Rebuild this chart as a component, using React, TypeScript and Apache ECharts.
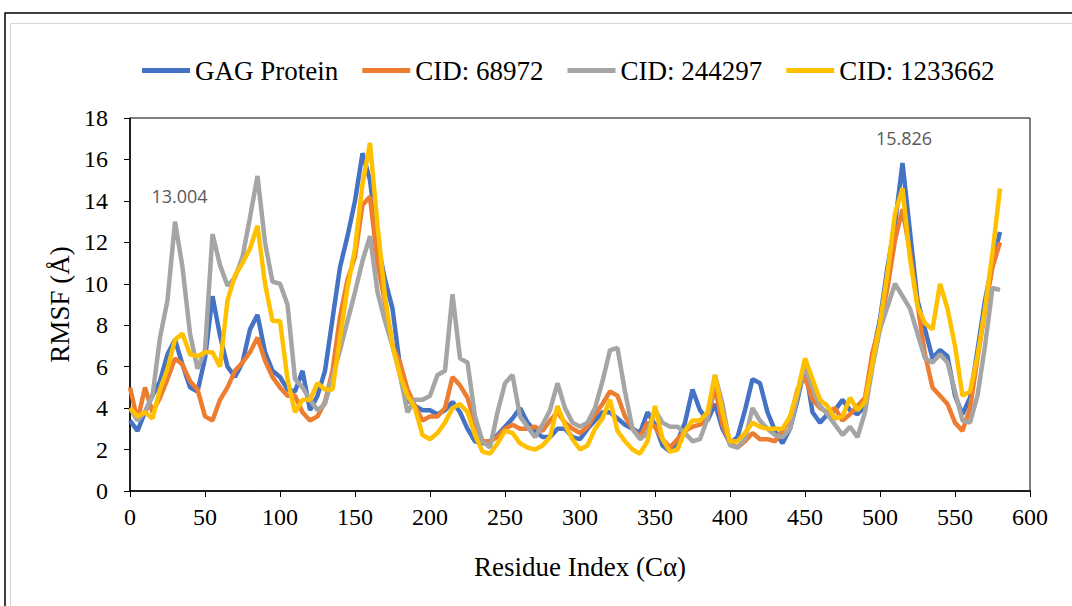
import React, { useEffect, useRef } from "react";
import * as echarts from "echarts";

const residues = [
  0, 5, 10, 15, 20, 25, 30, 35, 40, 45, 50, 55, 60, 65, 70, 75, 80, 85, 90, 95,
  100, 105, 110, 115, 120, 125, 130, 135, 140, 145, 150, 155, 160, 165, 170, 175, 180, 185, 190, 195,
  200, 205, 210, 215, 220, 225, 230, 235, 240, 245, 250, 255, 260, 265, 270, 275, 280, 285, 290, 295,
  300, 305, 310, 315, 320, 325, 330, 335, 340, 345, 350, 355, 360, 365, 370, 375, 380, 385, 390, 395,
  400, 405, 410, 415, 420, 425, 430, 435, 440, 445, 450, 455, 460, 465, 470, 475, 480, 485, 490, 495,
  500, 505, 510, 515, 520, 525, 530, 535, 540, 545, 550, 555, 560, 565, 570, 575, 580,
];

const gagProtein = [
  3.4, 2.9, 3.8, 4.6, 5.3, 6.6, 7.3, 6.1, 5.0, 4.8,
  6.4, 9.4, 7.5, 6.0, 5.5, 6.2, 7.8, 8.5, 6.7, 5.8,
  5.5, 4.9, 4.8, 5.8, 3.9, 4.6, 5.8, 8.3, 10.8, 12.3,
  14.0, 16.3, 15.0, 12.0, 10.2, 8.8, 6.0, 4.4, 4.1, 3.9,
  3.9, 3.7, 3.9, 4.3, 3.8, 3.0, 2.4, 2.3, 2.4, 2.7,
  3.1, 3.5, 4.0, 3.3, 2.9, 2.6, 2.6, 3.0, 3.0, 2.6,
  2.5, 3.0, 3.4, 3.8, 3.8, 3.5, 3.2, 3.0, 2.8, 3.8,
  3.2, 2.2, 1.9, 2.4, 3.3, 4.9, 3.9, 3.4, 4.2, 3.0,
  2.3, 2.6, 3.9, 5.4, 5.2, 3.8, 2.9, 2.3, 3.0, 4.4,
  6.0, 3.8, 3.3, 3.7, 3.9, 4.4, 3.9, 3.7, 4.1, 6.5,
  8.3, 10.8, 12.9, 15.83, 12.5, 9.2, 7.8, 6.4, 6.8, 6.5,
  4.6, 3.7, 4.5, 6.8, 9.2, 11.0, 12.5,
];

const cid68972 = [
  5.0, 3.4, 5.0, 3.8, 4.5, 5.4, 6.4, 6.1, 5.3, 4.9,
  3.6, 3.4, 4.4, 5.0, 5.8, 6.2, 6.7, 7.4, 6.3, 5.5,
  5.0, 4.6, 4.6, 3.8, 3.4, 3.6, 4.3, 5.8, 8.4, 10.2,
  11.3, 13.8, 14.2, 11.0, 9.1, 7.0, 6.2, 4.9, 4.1, 3.4,
  3.6, 3.6, 4.0, 5.5, 5.1, 4.5, 3.3, 2.4, 2.4, 2.6,
  3.0, 3.2, 3.0, 3.0, 3.1, 2.9, 3.4, 3.8, 3.3, 3.0,
  2.8, 3.1, 3.7, 4.2, 4.8, 4.6, 3.6, 3.0, 2.6, 3.3,
  3.1, 2.5, 2.1, 2.5, 2.9, 3.1, 3.2, 3.5, 5.0, 3.2,
  2.3, 2.1, 2.4, 2.8, 2.5, 2.5, 2.4, 2.9, 3.5, 4.9,
  5.5, 4.4, 4.0, 3.8, 4.0, 3.4, 3.7, 4.1, 4.5, 6.7,
  8.0, 9.8, 12.1, 13.6, 11.5, 9.0, 6.6, 5.0, 4.6, 4.2,
  3.3, 2.9, 4.0, 6.4, 8.7, 10.8, 12.0,
];

const cid244297 = [
  4.0, 3.4, 3.8, 4.6, 7.4, 9.2, 13.0, 10.8, 7.6, 5.9,
  6.8, 12.4, 10.9, 9.9, 10.3, 11.3, 13.2, 15.2, 12.0, 10.1,
  10.0, 9.0, 5.4, 5.0, 4.4, 3.9, 4.2, 5.5, 6.8, 8.2,
  9.6, 11.1, 12.3, 9.6, 8.2, 7.0, 5.6, 3.8, 4.4, 4.4,
  4.6, 5.6, 5.8, 9.5, 6.4, 6.2, 3.6, 2.4, 2.1, 3.8,
  5.2, 5.6, 3.6, 3.1, 2.6, 3.2, 3.9, 5.2, 4.0, 3.3,
  3.1, 3.3, 4.0, 5.3, 6.8, 6.9, 4.8, 3.0, 2.5, 2.8,
  3.9, 3.3, 3.1, 3.1, 2.8, 2.4, 2.5, 3.5, 5.6, 4.2,
  2.2, 2.1, 2.5, 4.0, 3.4, 3.0, 2.7, 2.6, 3.0, 4.6,
  6.0, 5.0, 4.1, 3.7, 3.2, 2.7, 3.1, 2.6, 3.8, 6.0,
  7.8, 8.9, 10.0, 9.4, 8.8, 7.6, 6.4, 6.2, 6.6, 6.2,
  4.8, 3.4, 3.3, 4.6, 7.0, 9.8, 9.7,
];

const cid1233662 = [
  4.0, 3.6, 3.8, 3.5, 4.9, 5.9, 7.3, 7.6, 6.6, 6.5,
  6.7, 6.7, 6.0, 9.2, 10.4, 11.0, 11.7, 12.8, 10.0, 8.2,
  8.2, 5.4, 3.8, 4.4, 4.4, 5.2, 4.9, 4.9, 7.4, 9.8,
  11.7, 14.8, 16.8, 12.8, 9.4, 7.0, 5.6, 4.6, 4.0, 2.7,
  2.5, 2.8, 3.3, 4.0, 4.2, 3.8, 2.7, 1.9, 1.8, 2.3,
  2.9, 2.8, 2.3, 2.1, 2.0, 2.2, 2.6, 4.1, 3.2, 2.5,
  2.0, 2.2, 3.0, 3.5, 4.4, 2.9, 2.4, 2.0, 1.8, 2.4,
  4.1, 2.5, 1.9, 2.0, 2.9, 3.4, 3.4, 3.8, 5.6, 3.8,
  2.4, 2.4, 2.8, 3.3, 3.1, 3.0, 3.0, 3.0, 3.6, 4.8,
  6.4, 5.4, 4.4, 4.1, 3.5, 3.6, 4.5, 3.9, 4.3, 6.2,
  8.1, 10.5, 13.4, 14.6, 11.2, 8.9, 8.1, 7.8, 10.0, 8.8,
  7.0, 4.6, 4.8, 6.5, 8.8, 11.5, 14.6,
];

const seriesNames = ["GAG Protein", "CID: 68972", "CID: 244297", "CID: 1233662"];
const seriesColors = ["#4472C4", "#ED7D31", "#A5A5A5", "#FFC000"];

// annotated peaks: [residue, value]
const grayPeak = [33, 13.004];
const gagPeak = [516, 15.826];

const serif = "Liberation Serif";

export default function App() {
  const ref = useRef<HTMLDivElement>(null);

  useEffect(() => {
    if (!ref.current) return;
    const chart = echarts.init(ref.current, null, { renderer: "svg" });
    const values = [gagProtein, cid68972, cid244297, cid1233662];
    const annotLabel = {
      show: true,
      position: "top",
      distance: 16,
      color: "#595959",
      fontSize: 18,
      fontFamily: "Open Sans",
    };
    const series = values.map((vals, k) => {
      const s: any = {
        name: seriesNames[k],
        type: "line",
        data: residues.map((r, i) => [r, vals[i]]),
        showSymbol: false,
        symbol: "none",
        lineStyle: { width: 4.5, color: seriesColors[k] },
        itemStyle: { color: seriesColors[k] },
        z: 2 + k,
      };
      const peak = k === 2 ? grayPeak : k === 0 ? gagPeak : null;
      if (peak) {
        s.markPoint = {
          symbol: "circle",
          symbolSize: 1,
          itemStyle: { color: "rgba(0,0,0,0)" },
          data: [{ coord: peak, value: peak[1] }],
          label: { ...annotLabel, formatter: peak[1].toFixed(3) },
        };
      }
      return s;
    });

    chart.setOption({
      animation: false,
      backgroundColor: "#ffffff",
      textStyle: { fontFamily: serif },
      graphic: [
        {
          type: "rect",
          shape: { x: 5, y: 13, width: 1100, height: 700 },
          style: { fill: "none", stroke: "#000000", lineWidth: 1.5 },
          silent: true,
        },
        {
          type: "rect",
          shape: { x: 10.5, y: 23.5, width: 1100, height: 700 },
          style: { fill: "none", stroke: "#d6d6d6", lineWidth: 1 },
          silent: true,
        },
      ],
      legend: {
        data: seriesNames,
        left: 137,
        top: 52,
        icon: "rect",
        itemWidth: 48,
        itemHeight: 5,
        itemGap: 24,
        textStyle: { fontFamily: serif, fontSize: 27, color: "#000000" },
      },
      grid: {
        left: 130,
        right: 42,
        top: 118,
        bottom: 115,
        show: true,
        borderColor: "#000000",
        borderWidth: 1,
        backgroundColor: "transparent",
      },
      xAxis: {
        type: "value",
        min: 0,
        max: 600,
        interval: 50,
        name: "Residue Index (Cα)",
        nameLocation: "middle",
        nameGap: 62,
        nameTextStyle: { fontFamily: serif, fontSize: 27, color: "#000000" },
        axisLine: { show: true, lineStyle: { color: "#000000", width: 1.5 } },
        axisTick: { show: true, length: 6, lineStyle: { color: "#000000" } },
        axisLabel: { fontFamily: serif, fontSize: 24, color: "#000000", margin: 14 },
        splitLine: { show: false },
      },
      yAxis: {
        type: "value",
        min: 0,
        max: 18,
        interval: 2,
        name: "RMSF (Å)",
        nameLocation: "middle",
        nameGap: 56,
        nameTextStyle: { fontFamily: serif, fontSize: 27, color: "#000000" },
        axisLine: { show: true, lineStyle: { color: "#000000", width: 1.5 } },
        axisTick: { show: true, length: 6, lineStyle: { color: "#000000" } },
        axisLabel: { fontFamily: serif, fontSize: 24, color: "#000000", margin: 22 },
        splitLine: { show: false },
      },
      series,
    });
    return () => chart.dispose();
  }, []);

  return (
    <div
      ref={ref}
      style={{ position: "fixed", left: 0, top: 0, width: 1072, height: 606, background: "#fff" }}
    />
  );
}
